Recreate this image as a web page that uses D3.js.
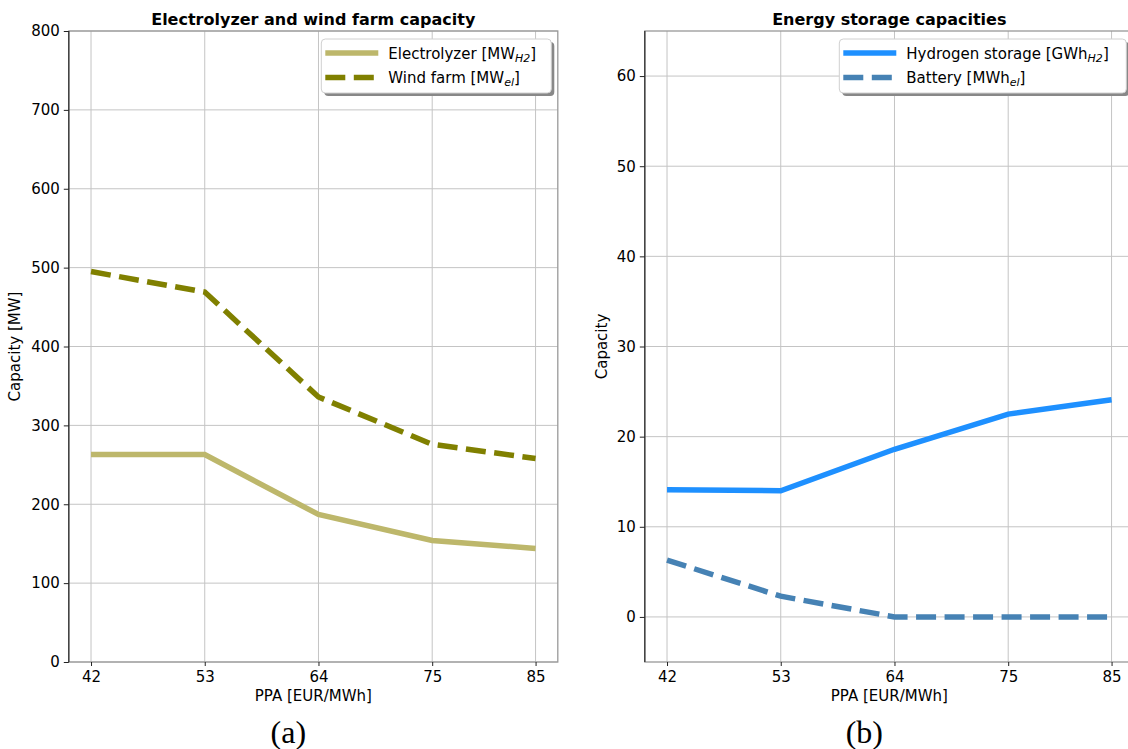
<!DOCTYPE html>
<html>
<head>
<meta charset="utf-8">
<script src="https://cdn.jsdelivr.net/npm/d3@7"></script>
<style>
  body { margin: 0; background: #fff; }
  svg { display: block; font-family: "DejaVu Sans", sans-serif; }
</style>
</head>
<body>
<svg id="chart" width="1128" height="749"></svg>
<script>
const ppa = [42, 53, 64, 75, 85];
const electrolyzer = [263, 263, 187, 154, 144];
const windFarm = [495, 469, 336, 276, 258];
const hydrogenStorage = [14.1, 14.0, 18.6, 22.5, 24.1];
const battery = [6.3, 2.3, 0, 0, 0];
const leftTicks = [0, 100, 200, 300, 400, 500, 600, 700, 800];
const rightTicks = [0, 10, 20, 30, 40, 50, 60];

const svg = d3.select("#chart");
const axTop = 31, axBottom = 662, axW = 489;

const drawPanel = (opts) => {
  const g = svg.append("g").attr("transform", `translate(${opts.left},0)`);
  const x = d3.scaleLinear().domain([39.85, 87.15]).range([0, axW]);
  const y = d3.scaleLinear().domain(opts.yDomain).range([axBottom, axTop]);

  // grid
  g.append("g").selectAll("line").data(ppa).enter().append("line")
    .attr("x1", d => x(d)).attr("x2", d => x(d))
    .attr("y1", axTop).attr("y2", axBottom)
    .attr("stroke", "#c4c4c4").attr("stroke-width", 1);
  g.append("g").selectAll("line").data(opts.yTicks).enter().append("line")
    .attr("x1", 0).attr("x2", axW)
    .attr("y1", d => y(d)).attr("y2", d => y(d))
    .attr("stroke", "#c4c4c4").attr("stroke-width", 1);

  // lines
  opts.series.forEach(s => {
    const line = d3.line().x((d, i) => x(ppa[i])).y(d => y(d));
    g.append("path").datum(s.values)
      .attr("d", line)
      .attr("fill", "none")
      .attr("stroke", s.color)
      .attr("stroke-width", 5.5)
      .attr("stroke-dasharray", s.dashed ? "20,8.5" : null);
  });

  // spines
  g.append("rect").attr("x", 0).attr("y", axTop).attr("width", axW).attr("height", axBottom - axTop)
    .attr("fill", "none").attr("stroke", "#999").attr("stroke-width", 1.3);
  g.append("line").attr("x1", 0).attr("x2", 0).attr("y1", axTop).attr("y2", axBottom)
    .attr("stroke", "#333").attr("stroke-width", 1.3);

  // axes
  const xAxis = d3.axisBottom(x).tickValues(ppa).tickSize(4).tickPadding(5);
  const gx = g.append("g").attr("transform", `translate(0,${axBottom})`).call(xAxis);
  const yAxis = d3.axisLeft(y).tickValues(opts.yTicks).tickSize(5).tickPadding(4);
  const gy = g.append("g").call(yAxis);
  [gx, gy].forEach(a => {
    a.select(".domain").remove();
    a.selectAll("line").attr("stroke", "#222").attr("stroke-width", 1);
    a.selectAll("text").attr("font-size", 15).attr("fill", "#000")
      .attr("font-family", "DejaVu Sans");
  });

  g.append("text").attr("x", axW / 2).attr("y", 701)
    .attr("text-anchor", "middle").attr("font-size", 15).text("PPA [EUR/MWh]");
  g.append("text")
    .attr("transform", `translate(${opts.yLabelX},${(axTop + axBottom) / 2}) rotate(-90)`)
    .attr("text-anchor", "middle").attr("font-size", 15).text(opts.yLabel);
  g.append("text").attr("x", axW / 2).attr("y", 25)
    .attr("text-anchor", "middle").attr("font-size", 16).attr("font-weight", "bold")
    .text(opts.title);
  g.append("text").attr("x", axW / 2 - 25).attr("y", 743)
    .attr("text-anchor", "middle").attr("font-size", 32)
    .attr("font-family", "Liberation Serif, serif").text(opts.caption);

  // legend
  const lg = g.append("g").attr("transform", `translate(${opts.legendX},39)`);
  lg.append("rect").attr("x", 3).attr("y", 3).attr("width", opts.legendW).attr("height", 54)
    .attr("rx", 4).attr("fill", "#888");
  lg.append("rect").attr("x", 0).attr("y", 0).attr("width", opts.legendW).attr("height", 54)
    .attr("rx", 4).attr("fill", "#fff").attr("stroke", "#d0d0d0").attr("stroke-width", 1);
  opts.series.forEach((s, i) => {
    const ly = 14 + i * 24.5;
    lg.append("line").attr("x1", 4).attr("x2", 57).attr("y1", ly).attr("y2", ly)
      .attr("stroke", s.color).attr("stroke-width", 5.5)
      .attr("stroke-dasharray", s.dashed ? "20,8.5" : null);
    const t = lg.append("text").attr("x", 67).attr("y", ly + 5.5).attr("font-size", 15);
    t.append("tspan").text(s.label);
    t.append("tspan").attr("font-size", 11).attr("font-style", "italic").attr("dy", 3).text(s.sub);
    t.append("tspan").attr("dy", -3).text("]");
  });
};

drawPanel({
  left: 68.8,
  yDomain: [0, 800],
  yTicks: leftTicks,
  yLabel: "Capacity [MW]",
  yLabelX: -49,
  title: "Electrolyzer and wind farm capacity",
  caption: "(a)",
  legendX: 252.5,
  legendW: 230,
  series: [
    { label: "Electrolyzer [MW", sub: "H2", values: electrolyzer, color: "#bdb76b", dashed: false },
    { label: "Wind farm [MW", sub: "el", values: windFarm, color: "#808000", dashed: true }
  ]
});

drawPanel({
  left: 644.8,
  yDomain: [-5, 65],
  yTicks: rightTicks,
  yLabel: "Capacity",
  yLabelX: -38,
  title: "Energy storage capacities",
  caption: "(b)",
  legendX: 194.5,
  legendW: 287,
  series: [
    { label: "Hydrogen storage [GWh", sub: "H2", values: hydrogenStorage, color: "#1e90ff", dashed: false },
    { label: "Battery [MWh", sub: "el", values: battery, color: "#4682b4", dashed: true }
  ]
});
</script>
</body>
</html>
